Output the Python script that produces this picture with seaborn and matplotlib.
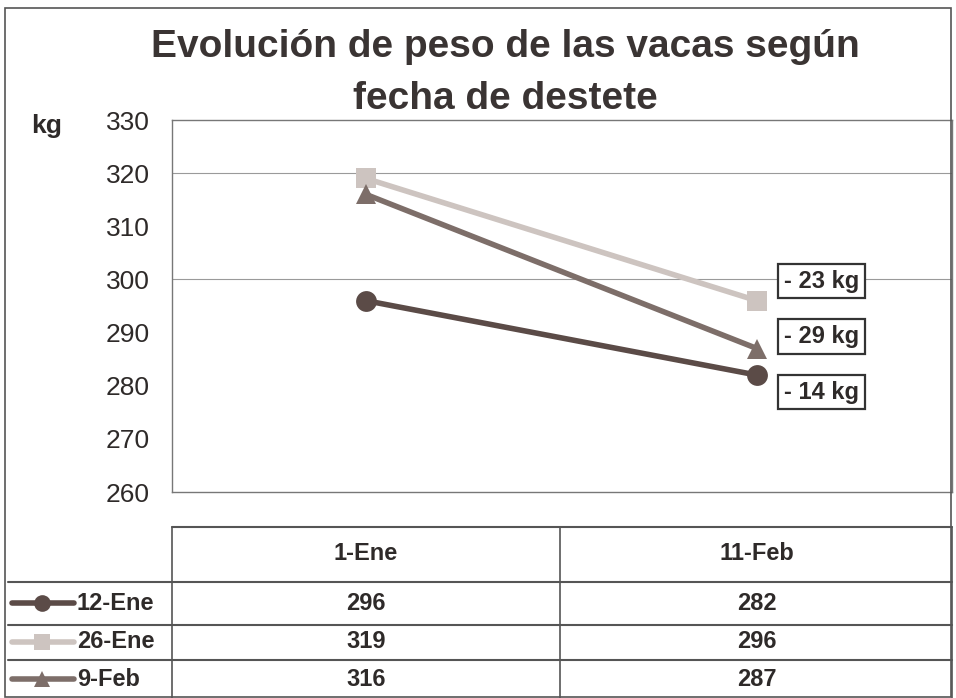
import matplotlib
matplotlib.use("Agg")

import pandas as pd
import matplotlib.pyplot as plt
import seaborn as sns
from matplotlib.lines import Line2D
from matplotlib.patches import Rectangle

fechas = ["1-Ene", "11-Feb"]
grupos = ["12-Ene", "26-Ene", "9-Feb"]
peso_12ene = [296, 282]
peso_26ene = [319, 296]
peso_9feb = [316, 287]
diferencias = ["- 23 kg", "- 29 kg", "- 14 kg"]
dif_y = [299.7, 289.2, 278.8]

df = pd.DataFrame({
    "fecha": fechas * 3,
    "peso": peso_12ene + peso_26ene + peso_9feb,
    "grupo": [g for g in grupos for _ in fechas],
})

colores = {"12-Ene": "#5b4b47", "26-Ene": "#cdc4c0", "9-Feb": "#7d6e69"}
marcas = {"12-Ene": "o", "26-Ene": "s", "9-Feb": "^"}
texto = "#2e2a29"

sns.set_style("white")
plt.rcParams["font.family"] = ["Liberation Sans", "DejaVu Sans"]

fig = plt.figure(figsize=(9.56, 6.98), dpi=100)
fig.patches.append(Rectangle((0.005, 0.002), 0.99, 0.986, transform=fig.transFigure,
                             fill=False, edgecolor="#555", linewidth=1.2))

ax = fig.add_axes([172 / 956, 1 - 492 / 698, 780 / 956, 372 / 698])
sns.lineplot(data=df, x="fecha", y="peso", hue="grupo", style="grupo",
             palette=colores, markers=marcas, dashes=False, linewidth=4,
             markersize=15, markeredgewidth=0, legend=False, ax=ax, sort=False)

ax.set_xlim(-0.496, 1.499)
ax.set_ylim(260, 330)
ax.set_yticks(range(260, 331, 10))
ax.tick_params(axis="y", labelsize=19, colors=texto, length=0, pad=16)
ax.set_xticks([])
ax.set_xlabel("")
ax.set_ylabel("")
for v in [300, 320]:
    ax.axhline(v, color="#9a9a9a", linewidth=0.8, zorder=0)
for s in ax.spines.values():
    s.set_color("#777")
    s.set_linewidth(1)

for t, y in zip(diferencias, dif_y):
    ax.text(1.166, y, t, ha="center", va="center", fontsize=17, fontweight="bold",
            color=texto, bbox=dict(boxstyle="square,pad=0.25", fc="white", ec="#333", lw=1.6))

fig.text(47 / 956, 1 - 126 / 698, "kg", fontsize=19, fontweight="bold", color=texto,
         ha="center", va="center")
fig.text(505 / 956, 1 - 73 / 698, "Evolución de peso de las vacas según\nfecha de destete",
         fontsize=28, fontweight="bold", color="#3a3433", ha="center", va="center",
         linespacing=1.6)

# tabla de datos
tab = fig.add_axes([0, 0, 1, 1], facecolor="none")
tab.set_xlim(0, 956)
tab.set_ylim(698, 0)
tab.axis("off")
lc = "#555"
tab.plot([172, 952], [527, 527], color=lc, lw=1.5)
for y in [582, 625, 660]:
    tab.plot([8, 952], [y, y], color=lc, lw=1.5)
tab.plot([172, 172], [527, 698], color=lc, lw=1.2)
tab.plot([560, 560], [527, 698], color=lc, lw=1.2)
tab.plot([952, 952], [527, 698], color=lc, lw=1.2)

col_x = [366, 757]
row_y = [603, 642, 679]
for x, f in zip(col_x, fechas):
    tab.text(x, 554, f, ha="center", va="center", fontsize=17, fontweight="bold", color=texto)
valores = [peso_12ene, peso_26ene, peso_9feb]
for y, g, vals in zip(row_y, grupos, valores):
    for x, v in zip(col_x, vals):
        tab.text(x, y, str(v), ha="center", va="center", fontsize=17, fontweight="bold", color=texto)
    tab.text(77, y, g, ha="left", va="center", fontsize=17, fontweight="bold", color=texto)
    tab.add_line(Line2D([12, 42, 74], [y, y, y], color=colores[g], lw=4, marker=marcas[g],
                        markersize=12, markeredgewidth=0, markevery=[1], zorder=3))

fig.savefig("out.png", dpi=100)
plt.close(fig)
